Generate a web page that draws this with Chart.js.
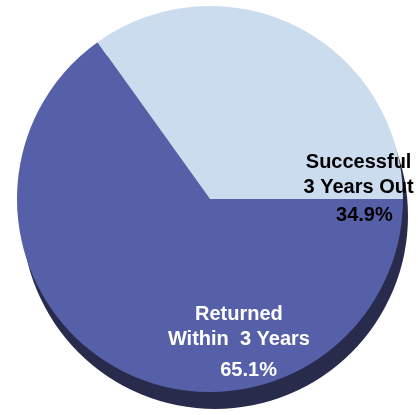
<!DOCTYPE html>
<html>
<head>
<meta charset="utf-8">
<script src="https://cdn.jsdelivr.net/npm/chart.js@4"></script>
<style>
  html, body { margin: 0; padding: 0; background: #fff; }
  #wrap { width: 418px; height: 415px; }
</style>
</head>
<body>
<div id="wrap"><canvas id="pie"></canvas></div>
<script>
const categories = ["Returned Within 3 Years", "Successful 3 Years Out"];
const shares = [65.1, 34.9];
const labelLines = [["Returned", "Within  3 Years"], ["Successful", "3 Years Out"]];
const sliceColors = ["#5660A9", "#CBDCEE"];
const labelColors = ["#ffffff", "#000000"];

// dark rim under the pie, gives the tilted 3d look
const rimPlugin = {
  id: "rim",
  beforeDatasetsDraw(chart) {
    const arc = chart.getDatasetMeta(0).data[0];
    if (!arc) return;
    const ctx = chart.ctx;
    ctx.save();
    ctx.fillStyle = "#282B4C";
    ctx.beginPath();
    ctx.arc(arc.x + 5, arc.y + 17, arc.outerRadius, 0, Math.PI * 2);
    ctx.fill();
    ctx.restore();
  }
};

// slice labels, placed relative to each arc
const labelPlugin = {
  id: "sliceLabels",
  afterDatasetsDraw(chart) {
    const meta = chart.getDatasetMeta(0);
    const ctx = chart.ctx;
    // anchor offsets as fractions of the radius
    const anchors = [[0.15, 0.6], [0.77, -0.19]];
    const pctShift = [[0.05, 0], [0.03, 0]];
    ctx.save();
    ctx.font = "bold 20px 'Liberation Sans', Arial, sans-serif";
    ctx.textAlign = "center";
    ctx.textBaseline = "middle";
    meta.data.forEach((arc, i) => {
      const r = arc.outerRadius;
      const x = arc.x + anchors[i][0] * r;
      let y = arc.y + anchors[i][1] * r;
      ctx.fillStyle = labelColors[i];
      labelLines[i].forEach((line, j) => {
        ctx.fillText(line, x, y + j * 25);
      });
      const gap = i === 0 ? 31 : 28;
      ctx.fillText(shares[i].toFixed(1) + "%", x + pctShift[i][0] * r, y + 25 + gap);
    });
    ctx.restore();
  }
};

new Chart(document.getElementById("pie"), {
  type: "pie",
  data: {
    labels: categories,
    datasets: [{
      data: shares,
      backgroundColor: sliceColors,
      borderWidth: 0,
      hoverOffset: 0
    }]
  },
  options: {
    responsive: true,
    maintainAspectRatio: false,
    animation: false,
    rotation: 90,
    layout: { padding: { left: 17, right: 15, top: 6, bottom: 23 } },
    plugins: {
      legend: { display: false },
      tooltip: { enabled: false }
    }
  },
  plugins: [rimPlugin, labelPlugin]
});
</script>
</body>
</html>
